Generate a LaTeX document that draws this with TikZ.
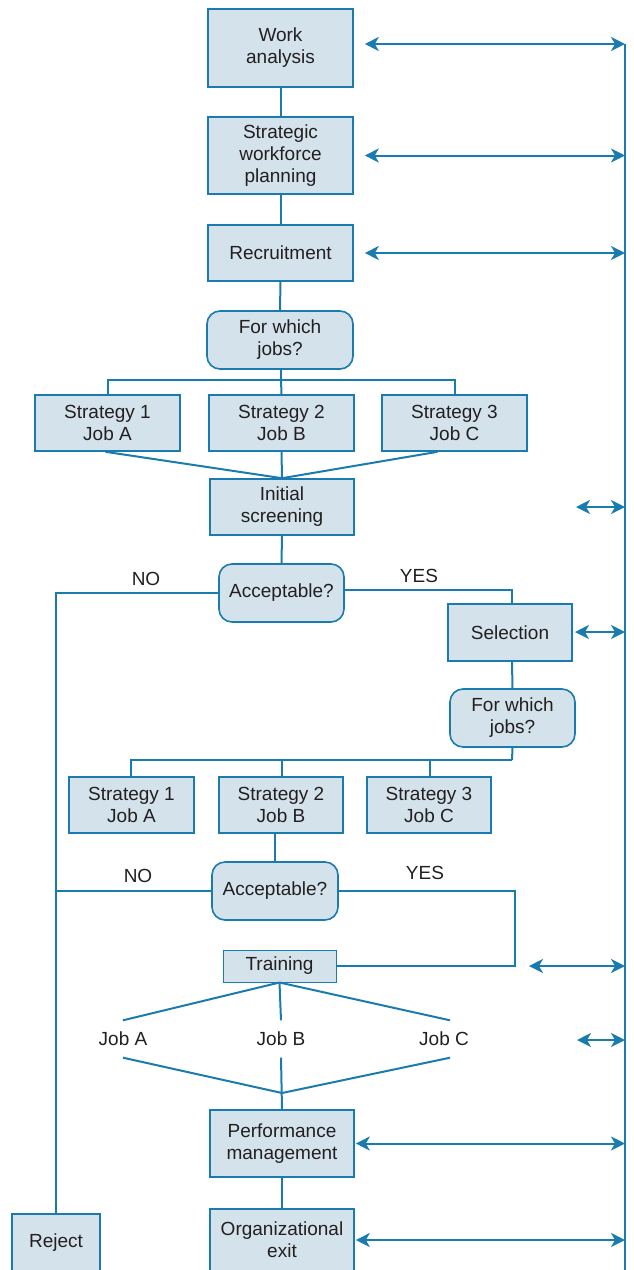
\documentclass[tikz,border=0pt]{standalone}
\usepackage{fontspec}
\setmainfont{Liberation Sans}
\usetikzlibrary{arrows.meta}
\definecolor{ln}{HTML}{1A7CAE}
\definecolor{bx}{HTML}{D4E2EC}
\definecolor{tx}{HTML}{231F20}
\tikzset{
  box/.style={draw=ln, line width=1.6pt, fill=bx, align=center, inner sep=0pt, text=tx, font=\fontsize{19}{22}\selectfont},
  rbox/.style={box, rounded corners=13pt},
  lbl/.style={inner sep=0pt, text=tx, font=\fontsize{19}{22}\selectfont},
  con/.style={draw=ln, line width=2pt},
  dar/.style={con, {Stealth[length=14pt,width=14pt,inset=4pt]}-{Stealth[length=14pt,width=14pt,inset=4pt]}}
}
\begin{document}
\begin{tikzpicture}[x=1pt,y=-1pt]
\useasboundingbox (0,0) rectangle (634,1270);
\clip (0,0) rectangle (634,1270);
\coordinate (rtop) at (625,44);
\coordinate (rbot) at (625,1275);
\coordinate (b1) at (281,380);
\coordinate (b2) at (512,760);
\coordinate (yc) at (515,891);
\coordinate (m2) at (282,1093);
\coordinate (a5) at (576,507);
\coordinate (a6) at (575,632);
\coordinate (a7) at (529,966);
\coordinate (a8) at (577,1040);

\draw[con] (rtop) -- (rbot);

\node[box, minimum width=145, minimum height=78] (work) at (280.5,48) {Work\\analysis};
\node[box, minimum width=145, minimum height=77] (swp) at (280.5,155.5) {Strategic\\workforce\\planning};
\node[box, minimum width=145, minimum height=56] (rec) at (280.5,253) {Recruitment};
\node[rbox, minimum width=146, minimum height=58] (fwj) at (280,340) {For which\\jobs?};
\node[box, minimum width=145, minimum height=56] (s1) at (107.5,423) {Strategy 1\\Job A};
\node[box, minimum width=145, minimum height=56] (s2) at (281.5,423) {Strategy 2\\Job B};
\node[box, minimum width=145, minimum height=56] (s3) at (454.5,423) {Strategy 3\\Job C};
\node[box, minimum width=144, minimum height=56] (init) at (282,507) {Initial\\screening};
\node[rbox, minimum width=125, minimum height=58] (acc1) at (281.5,593) {Acceptable?};
\node[box, minimum width=124, minimum height=57] (sel) at (510,632.5) {Selection};
\node[rbox, minimum width=125, minimum height=58] (fwj2) at (512.5,718) {For which\\jobs?};
\node[box, minimum width=125, minimum height=56] (t1) at (131.5,805) {Strategy 1\\Job A};
\node[box, minimum width=124, minimum height=56] (t2) at (281,805) {Strategy 2\\Job B};
\node[box, minimum width=124, minimum height=56] (t3) at (429,805) {Strategy 3\\Job C};
\node[rbox, minimum width=126, minimum height=58] (acc2) at (275,891) {Acceptable?};
\node[box, line width=1pt, minimum width=113, minimum height=32] (train) at (279.5,966) {Training};
\node[lbl, minimum height=37] (ja) at (123,1039) {Job A};
\node[lbl, minimum height=37] (jb) at (281,1039) {Job B};
\node[lbl, minimum height=37] (jc) at (444,1039) {Job C};
\node[box, minimum width=144, minimum height=67] (pm) at (282,1143.5) {Performance\\management};
\node[box, minimum width=144, minimum height=80] (oe) at (282,1249) {};
\node[lbl, align=center] (oet) at (282,1240) {Organizational\\exit};
\node[box, minimum width=88, minimum height=76] (rej) at (56,1252) {};
\node[lbl] (rejt) at (56,1243) {Reject};
\node[lbl] (no1) at (146,579) {NO};
\node[lbl] (yes1) at (419,576) {YES};
\node[lbl] (no2) at (138,876) {NO};
\node[lbl] (yes2) at (425,873) {YES};

\draw[con] (work.south) -- (swp.north);
\draw[con] (swp.south) -- (rec.north);
\draw[con] (rec.south) -- (fwj.north);
\draw[con] ([xshift=1pt]fwj.south) -- (b1);
\draw[con] (s1.north) |- (b1) -| (s3.north);
\draw[con] (b1) -- (s2.north);
\draw[con] ([xshift=-2pt]s1.south) -- (init.north);
\draw[con] (s2.south) -- (init.north);
\draw[con] ([xshift=-17pt]s3.south) -- (init.north);
\draw[con] (init.south) -- (acc1.north);
\draw[con] (acc1.west) -| (rej.north);
\draw[con] ([yshift=3pt]acc1.east) -| ([xshift=2pt]sel.north);
\draw[con] ([xshift=2pt]sel.south) -- (fwj2.north);
\draw[con] (fwj2.south) -- (b2);
\draw[con] ([xshift=-1pt]t1.north) |- (b2);
\draw[con] ([xshift=1pt]t2.north) -- ([xshift=1pt]t2.north |- b2);
\draw[con] ([xshift=1pt]t3.north) -- ([xshift=1pt]t3.north |- b2);
\draw[con] (acc2.north |- t2.south) -- (acc2.north);
\draw[con] (acc2.west) -- (acc2.west -| rej.north);
\draw[con] (acc2.east) -- (yc) |- (train.east);
\draw[con] (train.south) -- (ja.north);
\draw[con] (train.south) -- (jb.north);
\draw[con] (train.south) -- ([xshift=6pt]jc.north);
\draw[con] (ja.south) -- (m2);
\draw[con] ([xshift=6pt]jc.south) -- (m2);
\draw[con] (jb.south) -- (pm.north);
\draw[con] (pm.south) -- (oe.north);

\draw[dar] ([xshift=11pt,yshift=4pt]work.east) -- ([yshift=4pt]work.east -| rtop);
\draw[dar] ([xshift=11pt]swp.east) -- (swp.east -| rtop);
\draw[dar] ([xshift=11pt]rec.east) -- (rec.east -| rtop);
\draw[dar] (a5) -- (a5 -| rtop);
\draw[dar] (a6) -- (a6 -| rtop);
\draw[dar] (a7) -- (a7 -| rtop);
\draw[dar] (a8) -- (a8 -| rtop);
\draw[dar] ([xshift=1pt]pm.east) -- (pm.east -| rtop);
\draw[dar] ([xshift=1pt]oet.east -| oe.east) -- (oet.east -| rtop);
\end{tikzpicture}
\end{document}
